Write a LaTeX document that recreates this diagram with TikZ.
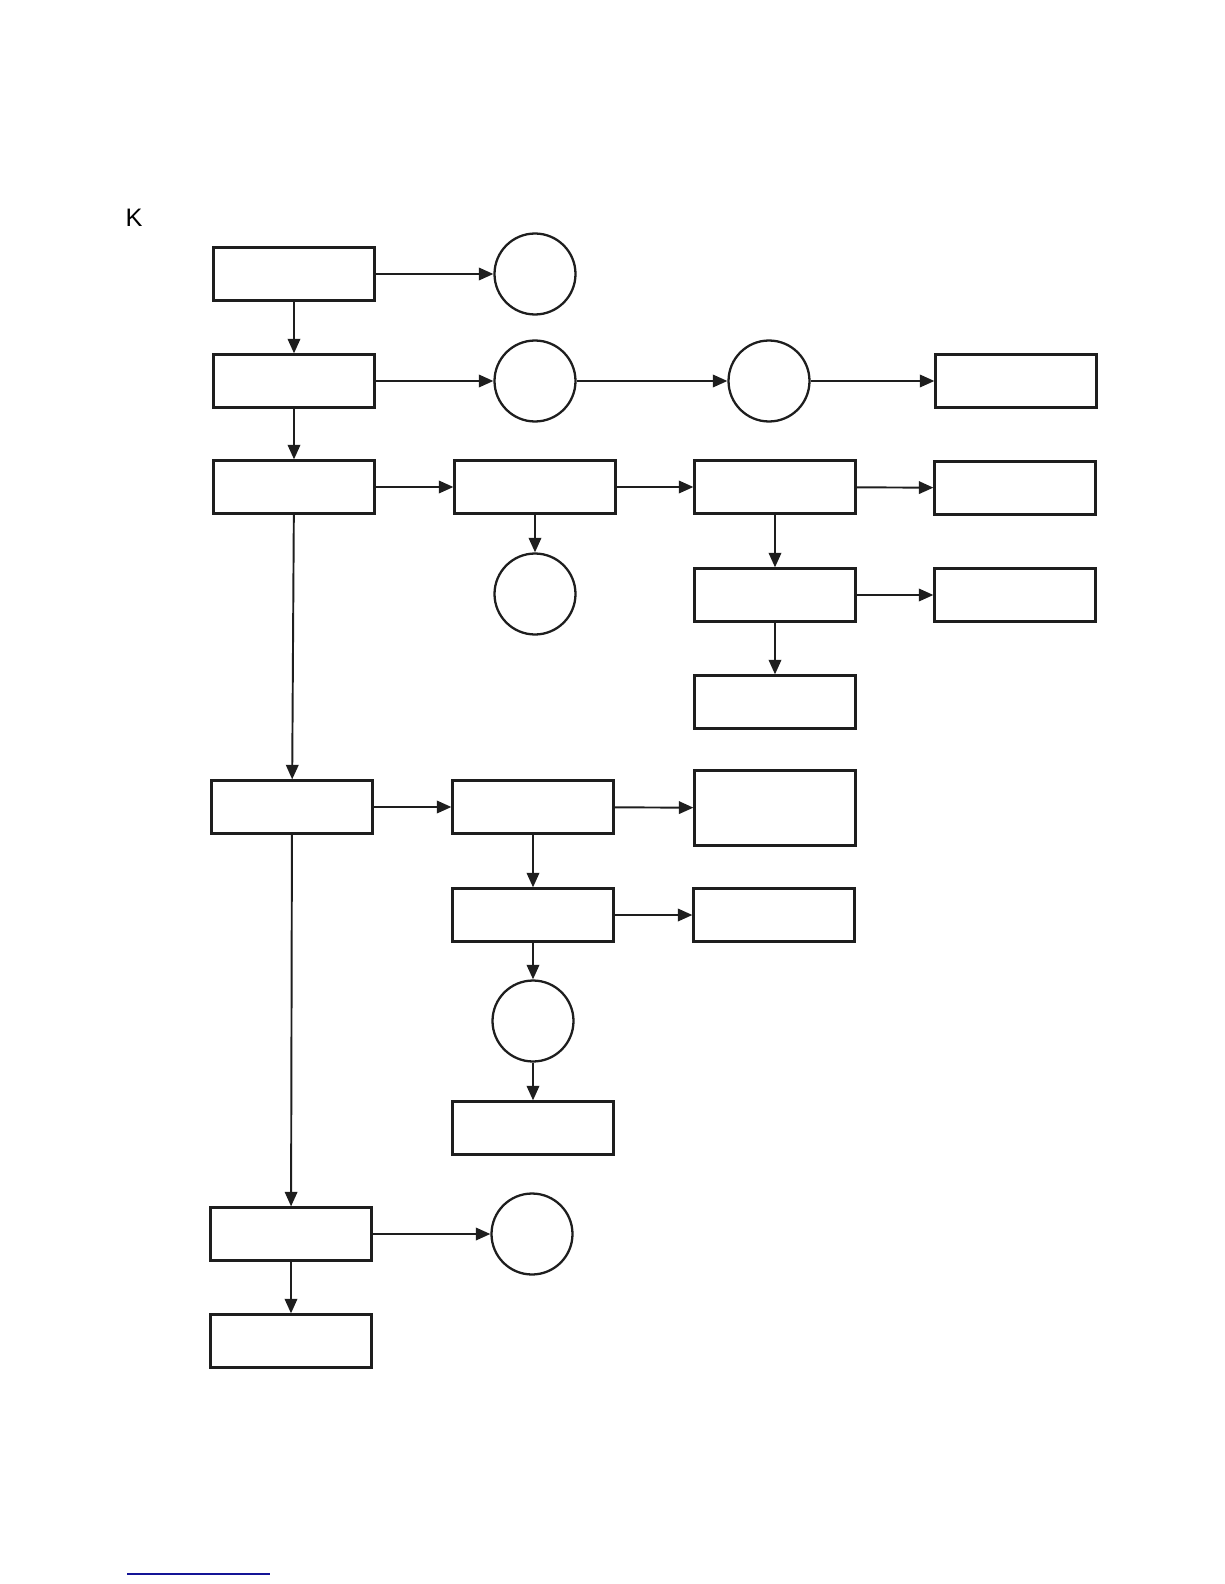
\documentclass[tikz,border=0pt]{standalone}
\usepackage{fontspec}
\setmainfont{Liberation Sans}
\usetikzlibrary{arrows.meta, positioning}
\definecolor{cLine}{RGB}{30,30,30}
\definecolor{cBlue}{RGB}{20,20,150}
\tikzset{
	box/.style     ={rectangle, draw=cLine, line width=1.3pt, minimum width=3.22cm, minimum height=1.06cm, fill=white},
	tallbox/.style ={box, minimum height=1.5cm},
	ring/.style    ={circle, draw=cLine, line width=1.3pt, minimum size=1.62cm, inner sep=0pt, fill=white},
	flow/.style    ={-{Triangle[length=2.9mm, width=2.5mm]}, line width=1.1pt, cLine},
}
\begin{document}
\begin{tikzpicture}[x=0.02cm, y=-0.02cm]
	\useasboundingbox (0,0) rectangle (1224,1584);
	\node[font=\Large] (lbl) at (134,218) {K};
	% left column
	\node[box] (a1) at (294,274) {};
	\node[box] (a2) at (294,381) {};
	\node[box] (a3) at (294,487) {};
	\node[box] (a4) at (292,807) {};
	\node[box] (a5) at (291,1234) {};
	\node[box] (a6) at (291,1341) {};
	% second column
	\node[ring] (c1) at (535,274) {};
	\node[ring] (c2) at (535,381) {};
	\node[box]  (b3) at (535,487) {};
	\node[ring] (c4) at (535,594) {};
	\node[box]  (b4) at (533,807) {};
	\node[box]  (b5) at (533,915) {};
	\node[ring] (c5) at (533,1021) {};
	\node[box]  (b6) at (533,1128) {};
	\node[ring] (c6) at (532,1234) {};
	% third column
	\node[ring]    (c3) at (769,381) {};
	\node[box]     (d3) at (775,487) {};
	\node[box]     (d4) at (775,595) {};
	\node[box]     (d5) at (775,702) {};
	\node[tallbox] (d6) at (775,808) {};
	\node[box]     (d7) at (774,915) {};
	% fourth column
	\node[box] (e2) at (1016,381) {};
	\node[box] (e3) at (1015,488) {};
	\node[box] (e4) at (1015,595) {};
	% connectors
	\draw[flow] (a1) -- (c1);
	\draw[flow] (a1) -- (a2);
	\draw[flow] (a2) -- (c2);
	\draw[flow] (c2) -- (c3);
	\draw[flow] (c3) -- (e2);
	\draw[flow] (a2) -- (a3);
	\draw[flow] (a3) -- (b3);
	\draw[flow] (b3) -- (d3);
	\draw[flow] (d3) -- (e3);
	\draw[flow] (b3) -- (c4);
	\draw[flow] (d3) -- (d4);
	\draw[flow] (d4) -- (e4);
	\draw[flow] (d4) -- (d5);
	\draw[flow] (a3) -- (a4);
	\draw[flow] (a4) -- (b4);
	\draw[flow] (b4) -- (d6);
	\draw[flow] (b4) -- (b5);
	\draw[flow] (b5) -- (d7);
	\draw[flow] (b5) -- (c5);
	\draw[flow] (c5) -- (b6);
	\draw[flow] (a4) -- (a5);
	\draw[flow] (a5) -- (c6);
	\draw[flow] (a5) -- (a6);
	\draw[cBlue, line width=0.8pt] (127,1574) -- (270,1574);
\end{tikzpicture}
\end{document}
